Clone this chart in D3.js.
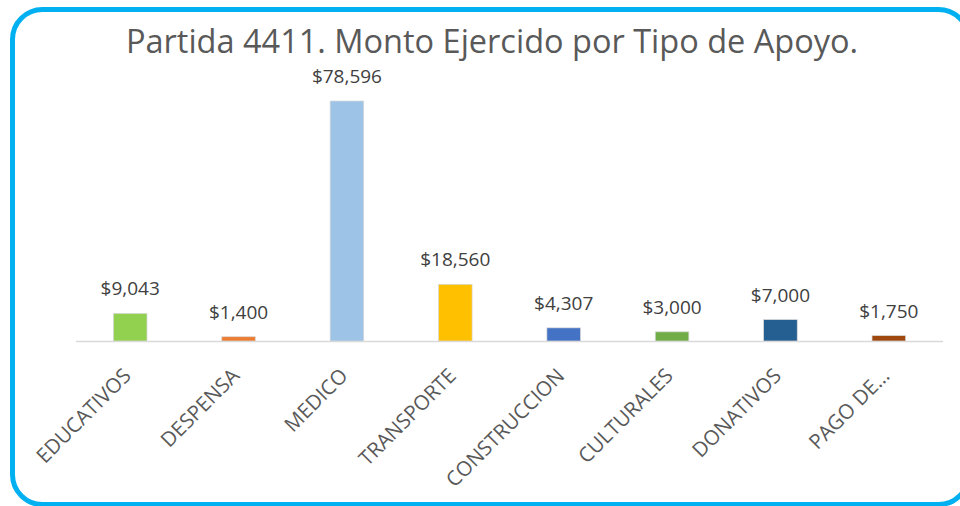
<!DOCTYPE html>
<html>
<head>
<meta charset="utf-8">
<script src="https://cdn.jsdelivr.net/npm/d3@7"></script>
<style>
  body { margin: 0; background: #fff; }
  svg { display: block; }
</style>
</head>
<body>
<div id="chart"></div>
<script>
var categories = ["EDUCATIVOS", "DESPENSA", "MEDICO", "TRANSPORTE", "CONSTRUCCION", "CULTURALES", "DONATIVOS", "PAGO DE..."];
var montos = [9043, 1400, 78596, 18560, 4307, 3000, 7000, 1750];
var barColors = ["#92d050", "#ed7d31", "#9dc3e6", "#ffc000", "#4472c4", "#70ad47", "#255e91", "#9e480e"];
var titleText = "Partida 4411. Monto Ejercido por Tipo de Apoyo.";

var width = 960, height = 506,
	plot = { left: 76, right: 943, top: 101, bottom: 341 };

var svg = d3.select("#chart").append("svg")
	.attr("width", width)
	.attr("height", height);

// frame
svg.append("rect")
	.attr("x", 12.5).attr("y", 9.5)
	.attr("width", 956).attr("height", 495)
	.attr("rx", 30).attr("ry", 30)
	.attr("fill", "#fff")
	.attr("stroke", "#00b0f0")
	.attr("stroke-width", 5);

svg.append("text")
	.attr("x", 492).attr("y", 53)
	.attr("text-anchor", "middle")
	.attr("font-family", "Open Sans, sans-serif")
	.attr("font-size", 32.5)
	.attr("fill", "#595959")
	.text(titleText);

var xScale = d3.scaleBand()
	.domain(categories)
	.range([plot.left, plot.right])
	.paddingInner(0.69)
	.paddingOuter(0.345);

var yScale = d3.scaleLinear()
	.domain([0, d3.max(montos)])
	.range([plot.bottom, plot.top]);

var data = categories.map(function(c, i) { return { cat: c, val: montos[i], color: barColors[i] }; });

// baseline
svg.append("line")
	.attr("x1", plot.left).attr("x2", plot.right)
	.attr("y1", plot.bottom + 0.5).attr("y2", plot.bottom + 0.5)
	.attr("stroke", "#d9d9d9")
	.attr("stroke-width", 1.5);

svg.selectAll("rect.bar")
	.data(data)
	.enter().append("rect")
	.attr("class", "bar")
	.attr("x", function(d) { return xScale(d.cat); })
	.attr("y", function(d) { return yScale(d.val); })
	.attr("width", xScale.bandwidth())
	.attr("height", function(d) { return plot.bottom - yScale(d.val); })
	.attr("fill", function(d) { return d.color; })
	.attr("stroke", "#d9d9d9")
	.attr("stroke-width", 0.7);

// value labels
svg.selectAll("text.value")
	.data(data)
	.enter().append("text")
	.attr("class", "value")
	.attr("x", function(d) { return xScale(d.cat) + xScale.bandwidth() / 2; })
	.attr("y", function(d) { return yScale(d.val) - 18; })
	.attr("text-anchor", "middle")
	.attr("font-family", "Open Sans, sans-serif")
	.attr("font-size", 19)
	.attr("fill", "#404040")
	.text(function(d) { return "$" + d3.format(",")(d.val); });

// category labels
svg.selectAll("text.cat")
	.data(data)
	.enter().append("text")
	.attr("class", "cat")
	.attr("transform", function(d) {
		var cx = xScale(d.cat) + xScale.bandwidth() / 2;
		return "translate(" + (cx - 3) + "," + (plot.bottom + 31) + ") rotate(-45)";
	})
	.attr("text-anchor", "end")
	.attr("dy", "0.35em")
	.attr("font-family", "Open Sans, sans-serif")
	.attr("font-size", 20.5)
	.attr("fill", "#595959")
	.text(function(d) { return d.cat; });
</script>
</body>
</html>
